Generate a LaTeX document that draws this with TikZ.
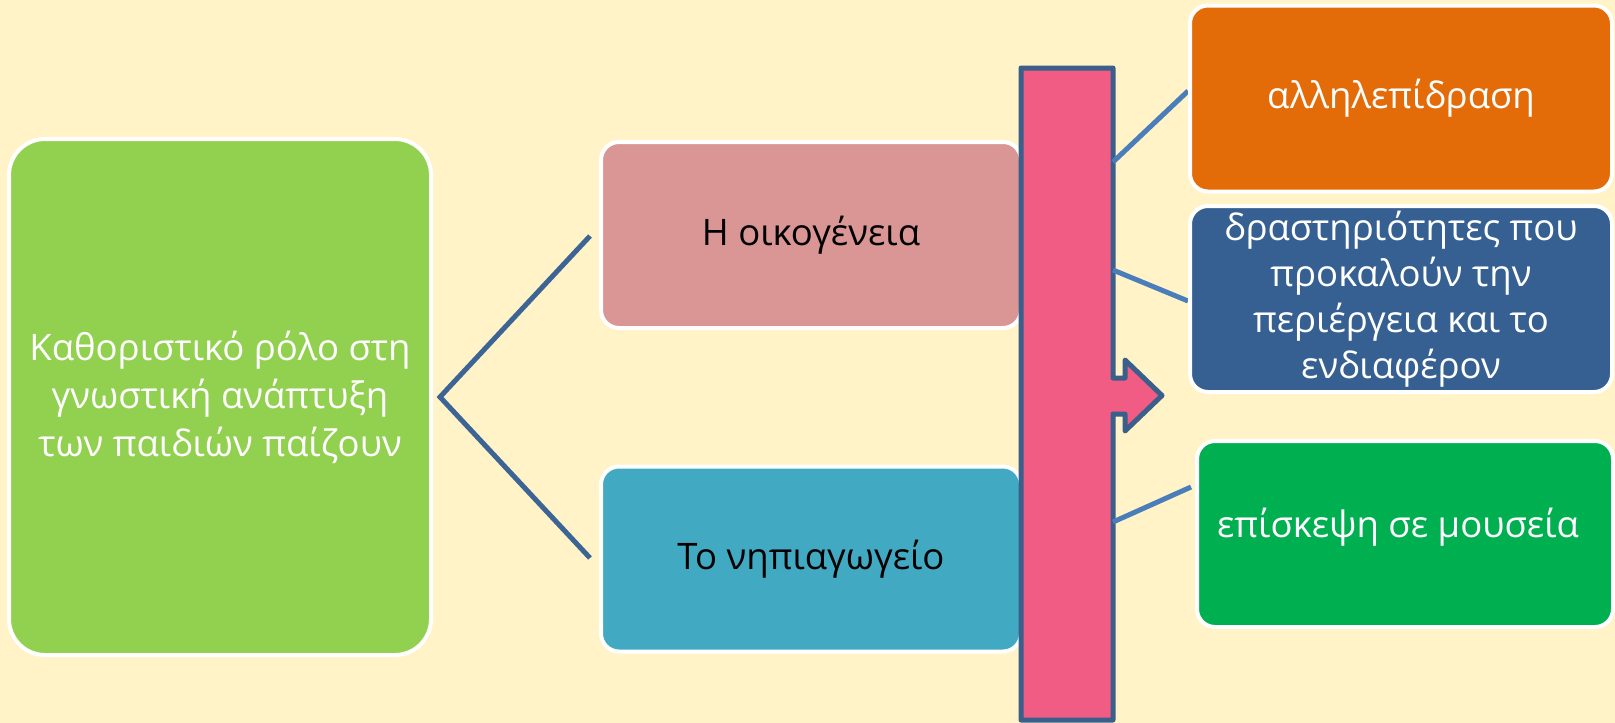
\documentclass[tikz,border=0pt]{standalone}
\usepackage{fontspec}
\setmainfont{Open Sans}
\definecolor{bg}{RGB}{255,243,199}
\definecolor{gbig}{RGB}{146,208,80}
\definecolor{pinkbox}{RGB}{217,150,148}
\definecolor{tealbox}{RGB}{66,169,195}
\definecolor{barfill}{RGB}{240,92,132}
\definecolor{barline}{RGB}{58,95,138}
\definecolor{orangebox}{RGB}{227,108,9}
\definecolor{bluebox}{RGB}{55,96,146}
\definecolor{greenbox}{RGB}{0,176,80}
\definecolor{leftline}{RGB}{60,101,149}
\definecolor{rightline}{RGB}{74,126,187}
\newcommand{\boxfont}{\fontsize{36.5}{46}\selectfont}
\newcommand{\bigfont}{\fontsize{36.5}{48}\selectfont}
\begin{document}
\begin{tikzpicture}[x=1pt,y=-1pt,
  box/.style={draw=white, line width=4pt, rounded corners=18pt, inner sep=0pt,
    align=center, font=\boxfont, text=white},
  conn/.style={line width=5pt},
]
\useasboundingbox (0,0) rectangle (1615,723);
\fill[bg] (0,0) rectangle (1615,723);

% left big box
\node[box, fill=gbig, font=\bigfont, rounded corners=36pt, minimum width=422pt, minimum height=516pt]
  (main) at (220,397) {Καθοριστικό ρόλο στη\\γνωστική ανάπτυξη\\των παιδιών παίζουν};

% middle boxes
\node[box, fill=pinkbox, text=black, minimum width=420pt, minimum height=186pt]
  (fam) at (811,235) {Η οικογένεια};
\node[box, fill=tealbox, text=black, minimum width=420pt, minimum height=185pt]
  (kind) at (811,559) {Το νηπιαγωγείο};

% connectors left
\coordinate (v) at (440,397);
\coordinate (famend) at (590,236);
\coordinate (kindend) at (590,558);
\draw[conn, leftline] (famend) -- (v) -- (kindend);

% bar with arrow
\draw[barline, fill=barfill, line width=5pt, line join=round]
  (1021,68) -- (1113,68) -- (1113,378) -- (1125,378) -- (1125,360) -- (1162,395.5)
  -- (1125,431) -- (1125,414) -- (1113,414) -- (1113,720) -- (1021,720) -- cycle;

% right connectors
\coordinate (b1) at (1113,162);
\coordinate (b2) at (1113,270);
\coordinate (b3) at (1113,522);
\coordinate (e1) at (1188,91);
\coordinate (e2) at (1188,301);
\coordinate (e3) at (1191,487);
\draw[conn, rightline] (b1) -- (e1);
\draw[conn, rightline] (b2) -- (e2);
\draw[conn, rightline] (b3) -- (e3);

% right boxes
\node[box, fill=orangebox, minimum width=422pt, minimum height=186pt]
  (inter) at (1401,98.5) {αλληλεπίδραση};
\node[box, fill=bluebox, minimum width=422pt, minimum height=186pt]
  (act) at (1401,299) {δραστηριότητες που\\προκαλούν την\\περιέργεια και το\\ενδιαφέρον};
\node[box, fill=greenbox, minimum width=416pt, minimum height=186pt,
  label={[font=\boxfont, text=white, xshift=-7pt, yshift=7pt]center:επίσκεψη σε μουσεία}]
  (mus) at (1405,534) {};
\end{tikzpicture}
\end{document}
